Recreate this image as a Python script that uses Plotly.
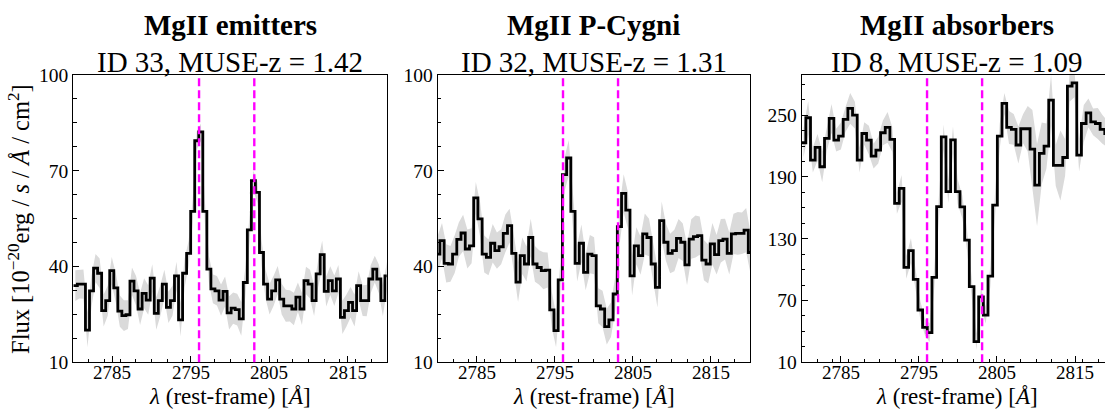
import numpy as np
import plotly.graph_objects as go

# ---------------- data ----------------
PANEL_TITLES = ["MgII emitters", "MgII P-Cygni", "MgII absorbers"]
PANEL_IDS = [33, 32, 8]
PANEL_Z = [1.42, 1.31, 1.09]
MGII_LINES = [2796.05, 2803.1]
X_TICKS = [2785, 2795, 2805, 2815]
Y_RANGES = [[10, 100], [10, 100], [10, 289]]
Y_TICK_STEP = [30, 30, 60]

# rest-frame wavelength sampling (first bin centre, bin width) per panel
WAVE_START = [2780.26, 2780.01, 2780.23]
WAVE_STEP = [0.5165, 0.5411, 0.5981]

flux_emit = [34.0, 34.5, 34.5, 20.1, 32.4, 39.5, 37.9, 26.2, 29.3, 38.7,
             33.3, 26.0, 24.6, 24.9, 35.4, 32.4, 26.7, 31.6, 29.5, 36.4,
             25.3, 29.3, 34.5, 27.2, 29.3, 37.1, 23.3, 37.9, 44.1, 57.3,
             79.4, 82.2, 57.3, 39.2, 33.0, 32.4, 29.5, 32.2, 25.5, 27.0,
             26.5, 23.6, 35.0, 51.5, 66.9, 63.2, 44.4, 34.5, 29.8, 32.4,
             35.8, 29.8, 27.7, 27.7, 26.7, 30.4, 26.7, 35.6, 34.5, 29.3,
             37.7, 43.7, 32.2, 35.6, 32.4, 36.1, 24.1, 26.2, 28.8, 26.2,
             34.0, 29.3, 29.3, 36.1, 39.2, 36.1, 29.3, 37.1]
err_emit = [4.8, 4.5, 4.6, 5.4, 4.9, 4.4, 4.6, 5.0, 4.7, 4.3,
            4.6, 4.9, 4.8, 4.5, 4.3, 4.6, 5.0, 4.7, 4.6, 4.3,
            5.1, 4.8, 4.5, 4.9, 4.7, 4.4, 5.2, 4.5, 4.0, 3.6,
            2.8, 2.6, 3.4, 4.1, 4.5, 4.6, 4.9, 4.7, 5.2, 4.9,
            5.0, 5.3, 4.6, 3.8, 3.1, 3.3, 4.0, 4.5, 4.8, 4.7,
            4.4, 4.8, 5.0, 4.9, 5.1, 4.6, 5.0, 4.3, 4.5, 4.8,
            4.2, 4.4, 4.7, 4.5, 4.8, 4.4, 5.2, 5.0, 4.8, 5.0,
            4.5, 4.8, 4.9, 4.4, 4.2, 4.5, 4.9, 4.4]

flux_pcyg = [43.9, 48.1, 41.0, 40.8, 43.9, 48.5, 50.5, 45.5, 46.5, 61.5,
             54.9, 43.9, 42.9, 47.3, 45.0, 46.2, 50.4, 52.8, 44.1, 35.1,
             43.4, 40.8, 49.1, 40.8, 39.7, 38.7, 38.9, 26.4, 19.9, 35.8,
             68.8, 74.0, 57.3, 41.0, 47.3, 38.2, 43.9, 43.4, 27.7, 26.7,
             21.2, 23.3, 31.4, 52.5, 62.9, 57.7, 37.1, 46.5, 43.4, 50.2,
             49.1, 40.8, 33.5, 54.4, 47.6, 44.1, 45.0, 48.8, 47.6, 40.5,
             48.6, 49.4, 49.7, 42.0, 40.8, 47.1, 43.7, 48.1, 48.6, 44.1,
             50.2, 50.4, 50.4, 51.4, 44.4]
err_pcyg = [5.8, 5.5, 6.0, 5.6, 5.9, 5.4, 5.7, 6.1, 5.5, 5.0,
            5.4, 5.8, 5.6, 6.0, 5.7, 5.5, 5.9, 5.3, 5.8, 6.2,
            5.7, 5.5, 5.9, 5.6, 5.4, 5.8, 5.5, 5.6, 5.2, 5.4,
            5.3, 5.6, 5.5, 5.7, 5.9, 5.6, 6.0, 5.8, 5.5, 5.7,
            5.6, 5.4, 5.3, 5.9, 6.0, 5.7, 6.2, 5.8, 6.0, 6.4,
            5.9, 6.1, 6.3, 6.0, 5.8, 6.2, 6.5, 6.1, 5.9, 6.4,
            6.2, 6.6, 6.0, 6.3, 6.1, 6.5, 6.2, 6.8, 6.4, 6.6,
            6.3, 6.7, 6.5, 6.9, 6.4]

flux_abs = [223.2, 247.5, 206.4, 218.7, 199.9, 227.4, 246.8, 225.8, 229.7, 245.9,
            256.6, 250.0, 206.4, 232.2, 225.8, 210.3, 216.1, 232.9, 238.1, 226.4,
            164.3, 178.9, 102.2, 118.4, 90.6, 60.8, 44.0, 38.8, 92.5, 161.1,
            229.0, 175.7, 226.0, 175.7, 161.0, 128.7, 83.4, 30.0, 73.6, 55.8,
            93.6, 162.7, 229.7, 261.4, 238.1, 236.2, 221.0, 236.8, 236.8, 217.0,
            182.1, 212.9, 220.0, 264.6, 201.2, 201.2, 208.9, 278.2, 281.4, 211.2,
            241.9, 252.3, 243.5, 241.9, 236.2, 232.0, 230.0]
err_abs = [14, 16, 12, 13, 15, 12, 14, 11, 13, 12,
           15, 13, 12, 11, 14, 12, 13, 12, 15, 12,
           10, 13, 11, 12, 10, 9, 8, 9, 10, 12,
           12, 11, 13, 12, 11, 10, 9, 8, 9, 8,
           10, 11, 12, 10, 16, 15, 18, 14, 22, 38,
           40, 30, 22, 25, 20, 34, 18, 15, 14, 16,
           18, 14, 13, 15, 14, 13, 14]

FLUXES = [flux_emit, flux_pcyg, flux_abs]
ERRS = [err_emit, err_pcyg, err_abs]

# ---------------- layout geometry (pixels of the 1105x410 page) ----------------
W, H = 1105, 410
PX_LEFT = [73.3, 437.7, 801.7]
PX_RIGHT = [386.7, 750.0, 1105.0]
PX_TOP, PX_BOTTOM = 75.0, 362.3
X_RANGES = [[2780, 2820], [2780, 2820], [2780, 2780 + (1105 - 801.7) / 7.81]]
TITLE_CENTRES = [230.0, 593.9, 957.0]

SERIF = "Liberation Serif, Times New Roman, serif"

fig = go.Figure()

for k in range(3):
    n = len(FLUXES[k])
    centres = WAVE_START[k] + WAVE_STEP[k] * np.arange(n)
    flux = np.array(FLUXES[k], dtype=float)
    err = np.array(ERRS[k], dtype=float)
    xa = "x" if k == 0 else f"x{k+1}"
    ya = "y" if k == 0 else f"y{k+1}"

    # error band (linear between bin centres)
    fig.add_trace(go.Scatter(x=centres, y=flux - err, mode="lines",
                             line=dict(width=0, color="rgba(0,0,0,0)"),
                             hoverinfo="skip", showlegend=False, xaxis=xa, yaxis=ya))
    fig.add_trace(go.Scatter(x=centres, y=flux + err, mode="lines", fill="tonexty",
                             fillcolor="#dadada", line=dict(width=0, color="rgba(0,0,0,0)"),
                             hoverinfo="skip", showlegend=False, xaxis=xa, yaxis=ya))
    # step spectrum
    edges = np.append(centres - WAVE_STEP[k] / 2, centres[-1] + WAVE_STEP[k] / 2)
    fig.add_trace(go.Scatter(x=edges, y=np.append(flux, flux[-1]), mode="lines",
                             line=dict(color="black", width=2.8, shape="hv"),
                             showlegend=False, xaxis=xa, yaxis=ya))

    for lam in MGII_LINES:
        fig.add_shape(type="line", xref=xa, yref=f"{ya} domain", x0=lam, x1=lam, y0=0, y1=1,
                      line=dict(color="#ff00ff", width=2.4, dash="8px,4px"), layer="above")

    axis_common = dict(showgrid=False, zeroline=False, showline=True, linecolor="black",
                       linewidth=1.3, ticks="inside", tickcolor="black", tickwidth=1,
                       ticklen=6, automargin=False,
                       tickfont=dict(family=SERIF, size=19.5, color="black"))
    xdom = [PX_LEFT[k] / W, PX_RIGHT[k] / W]
    ydom = [1 - PX_BOTTOM / H, 1 - PX_TOP / H]
    fig.update_layout(**{
        ("xaxis" if k == 0 else f"xaxis{k+1}"): dict(
            domain=xdom, range=X_RANGES[k], anchor=ya, mirror=True,
            tickmode="array", tickvals=X_TICKS, showticklabels=False,
            minor=dict(ticks="inside", ticklen=3.5, tickcolor="black", tickwidth=1,
                       tickmode="linear", tick0=2780, dtick=2),
            **axis_common),
        ("yaxis" if k == 0 else f"yaxis{k+1}"): dict(
            domain=ydom, range=Y_RANGES[k], anchor=xa, mirror=(k < 2),
            tickmode="linear", tick0=10, dtick=Y_TICK_STEP[k],
            minor=dict(ticks="inside", ticklen=3.5, tickcolor="black", tickwidth=1,
                       tick0=10, dtick=Y_TICK_STEP[k] / 4),
            **axis_common),
    })

    # x tick labels placed just under the axis
    for tv in X_TICKS:
        fig.add_annotation(x=tv, y=1 - 372.4 / H, xref=xa, yref="paper", text=str(tv),
                           showarrow=False, xanchor="center", yanchor="middle",
                           font=dict(family=SERIF, size=19, color="black"))

    cx = TITLE_CENTRES[k] / W
    fig.add_annotation(x=cx, y=1 - 25 / H, xref="paper", yref="paper",
                       text=f"<b>{PANEL_TITLES[k]}</b>", showarrow=False,
                       font=dict(family=SERIF, size=29, color="black"),
                       xanchor="center", yanchor="middle")
    fig.add_annotation(x=cx, y=1 - 61.5 / H, xref="paper", yref="paper",
                       text=f"ID {PANEL_IDS[k]}, MUSE-z = {PANEL_Z[k]:.2f}", showarrow=False,
                       font=dict(family=SERIF, size=29, color="black"),
                       xanchor="center", yanchor="middle")
    fig.add_annotation(x=cx, y=1 - 396.6 / H, xref="paper", yref="paper",
                       text="<i>λ</i> (rest-frame) [<i>Å</i>]", showarrow=False,
                       font=dict(family=SERIF, size=23, color="black"),
                       xanchor="center", yanchor="middle")

fig.add_annotation(x=19 / W, y=1 - 219 / H, xref="paper", yref="paper",
                   text="Flux [10<sup>−20</sup>erg / <i>s</i> / <i>Å</i> / cm<sup>2</sup>]",
                   textangle=-90, showarrow=False,
                   font=dict(family=SERIF, size=24.5, color="black"),
                   xanchor="center", yanchor="middle")

fig.update_layout(template="none", width=W, height=H, margin=dict(l=0, r=0, t=0, b=0, pad=0),
                  paper_bgcolor="white", plot_bgcolor="white", showlegend=False)

fig.write_html("out.html", config={"displayModeBar": False},
               post_script="document.body.style.margin='0px';document.body.style.overflow='hidden';")
